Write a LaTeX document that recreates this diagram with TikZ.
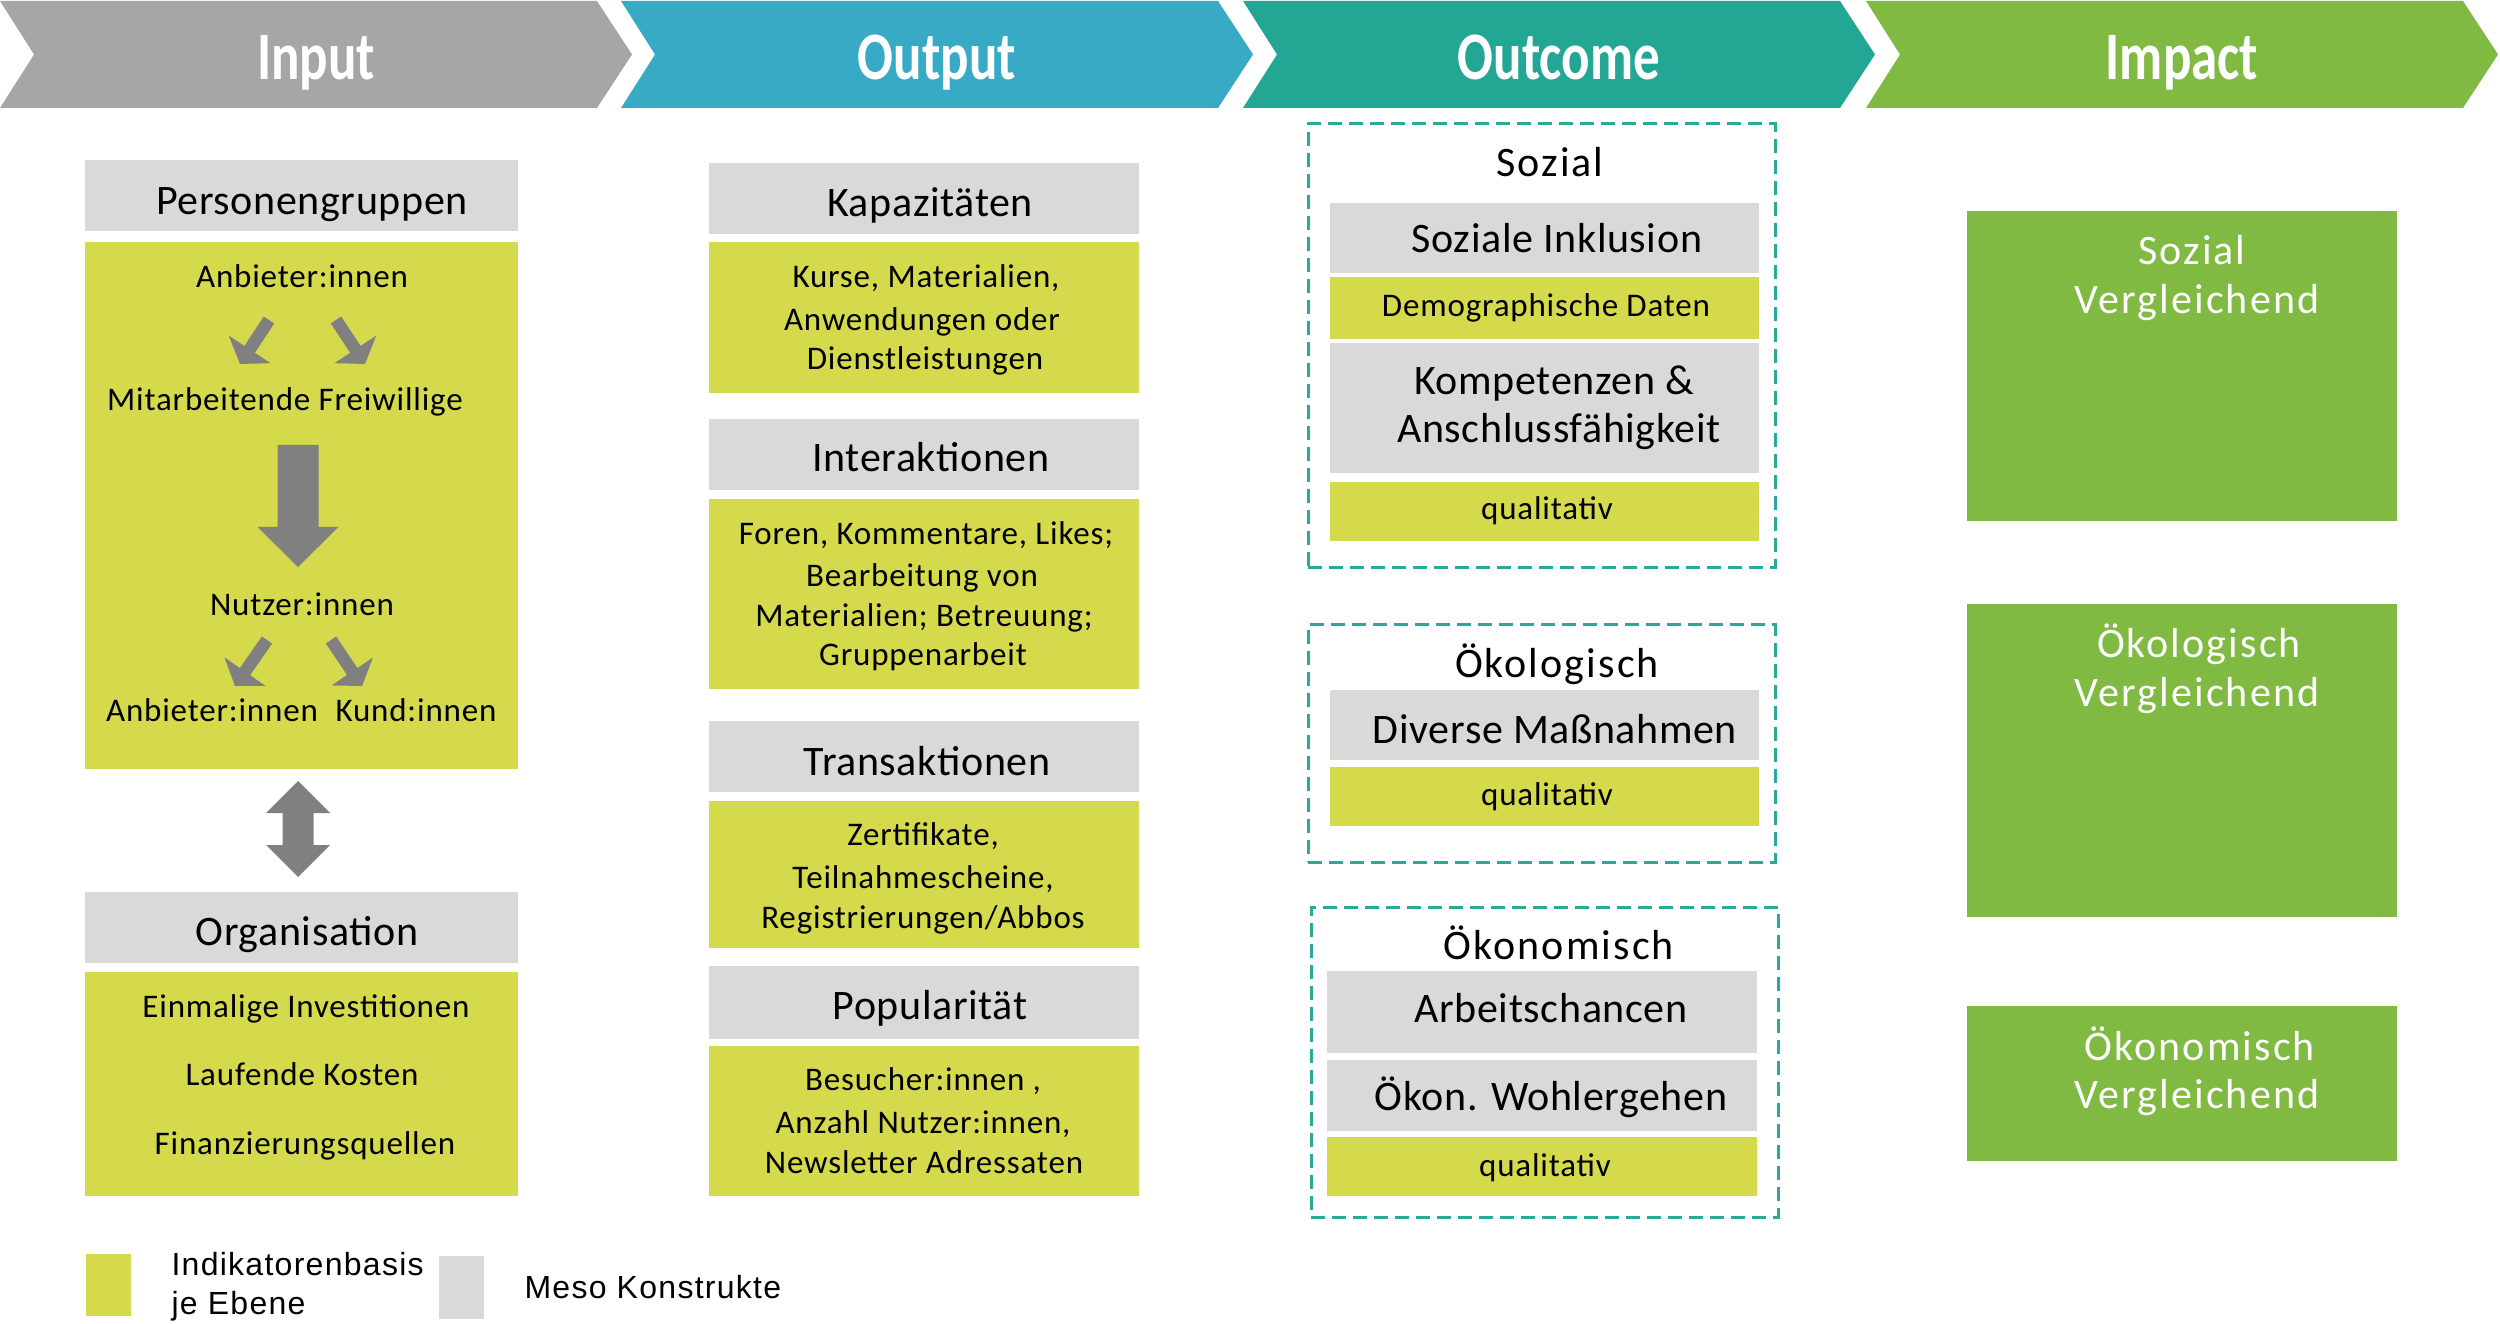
\documentclass[tikz,border=0pt]{standalone}
\usepackage{fontspec}
\usepackage{graphicx}
\setmainfont{Carlito}
\newfontfamily\spacedfont[LetterSpace=5]{Carlito}
\newfontfamily\hdfont[LetterSpace=1.5]{Carlito}
\newfontfamily\bodyfont[LetterSpace=2.5]{Carlito}
\newfontfamily\legfont[LetterSpace=4]{Liberation Sans}
\usetikzlibrary{calc,fit}
\definecolor{cInput}{HTML}{A6A6A6}
\definecolor{cOutput}{HTML}{38AAC6}
\definecolor{cOutcome}{HTML}{23A694}
\definecolor{cImpact}{HTML}{80BA42}
\definecolor{lime}{HTML}{D4DA4B}
\definecolor{lgray}{HTML}{D9D9D9}
\definecolor{agray}{HTML}{808080}
\definecolor{dteal}{HTML}{2AA898}
\tikzset{
 limebox/.style={fill=lime, inner sep=0pt, outer sep=0pt},
 graybox/.style={fill=lgray, inner sep=0pt, outer sep=0pt},
 impbox/.style={fill=cImpact, inner sep=0pt, outer sep=0pt},
 dashbox/.style={draw=dteal, line width=1.2pt, dash pattern=on 5.6pt off 2.8pt, inner sep=0pt},
 chevtitle/.style={text=white, font=\fontsize{27.2pt}{30pt}\selectfont\bfseries, anchor=base, inner sep=0pt},
 hdtxt/.style={font=\hdfont\fontsize{16.8pt}{20pt}\selectfont, anchor=base, inner sep=0pt},
 bodytxt/.style={font=\bodyfont\fontsize{13.2pt}{16pt}\selectfont, anchor=base, inner sep=0pt},
 grptxt/.style={font=\spacedfont\fontsize{16.8pt}{20pt}\selectfont, anchor=base, inner sep=0pt},
 imptxt/.style={grptxt, text=white},
 legtxt/.style={font=\legfont\fontsize{12.8pt}{15pt}\selectfont, anchor=base west, inner sep=0pt},
}
% block arrow: tail, tip, half shaft, half head, head length
\newcommand\blockarr[5]{%
  \coordinate (ba-c) at ($(#2)!#5!(#1)$);
  \fill[agray] ($(#1)!#3!90:(#2)$) -- ($(ba-c)!#3!-90:(#1)$) -- ($(ba-c)!#4!-90:(#1)$) -- (#2)
     -- ($(ba-c)!#4!90:(#1)$) -- ($(ba-c)!#3!90:(#1)$) -- ($(#1)!#3!-90:(#2)$) -- cycle;}
% double-headed block arrow: tip1, tip2, half shaft, half head, head length
\newcommand\twoheadarr[5]{%
  \coordinate (da-a) at ($(#1)!#5!(#2)$);
  \coordinate (da-b) at ($(#2)!#5!(#1)$);
  \fill[agray] (#1) -- ($(da-a)!#4!90:(#2)$) -- ($(da-a)!#3!90:(#2)$) -- ($(da-b)!#3!-90:(#1)$)
     -- ($(da-b)!#4!-90:(#1)$) -- (#2) -- ($(da-b)!#4!90:(#1)$) -- ($(da-b)!#3!90:(#1)$)
     -- ($(da-a)!#3!-90:(#2)$) -- ($(da-a)!#4!-90:(#2)$) -- cycle;}
\newcommand\chev[2]{\fill[#2] (#1,1) -- (#1+597,1) -- (#1+632,54.5) -- (#1+597,108) -- (#1,108) -- (#1+34,54.5) -- cycle;}
\begin{document}
\begin{tikzpicture}[x=0.4pt, y=-0.4pt]
\useasboundingbox (0,0) rectangle (2500,1324);
% ---------- chevrons
\chev{0}{cInput}
\chev{621}{cOutput}
\chev{1243}{cOutcome}
\chev{1866}{cImpact}
\node[chevtitle] (tIn)  at (316,80)  {\scalebox{0.78}[1]{Input}};
\node[chevtitle] (tOut) at (937,80)  {\scalebox{0.78}[1]{Output}};
\node[chevtitle] (tOc)  at (1559,80) {\scalebox{0.78}[1]{Outcome}};
\node[chevtitle] (tIm)  at (2182,80) {\scalebox{0.78}[1]{Impact}};
% ---------- Input column
\node[graybox, fit={(85,160) (518,231)}] (persG) {};
\node[hdtxt] (persT) at (312,215) {Personengruppen};
\node[limebox, fit={(85,242) (518,769)}] (persL) {};
\node[bodytxt] (anb1) at (302,288) {Anbieter:innen};
\node[bodytxt] (mf) at (285,411) {Mitarbeitende Freiwillige};
\node[bodytxt] (nutz) at (302,616) {Nutzer:innen};
\node[bodytxt] (anb2) at (212,721) {Anbieter:innen};
\node[bodytxt] (kund) at (416,721) {Kund:innen};
\coordinate (a1s) at (269,320); \coordinate (a1e) at (240,364);
\coordinate (a2s) at (336,320); \coordinate (a2e) at (365,364);
\coordinate (a3s) at (298,445); \coordinate (a3e) at (298,567);
\coordinate (a4s) at (267,640); \coordinate (a4e) at (235,686);
\coordinate (a5s) at (331,640); \coordinate (a5e) at (362,686);
\blockarr{a1s}{a1e}{2.5pt}{10pt}{7pt}
\blockarr{a2s}{a2e}{2.5pt}{10pt}{7pt}
\blockarr{a3s}{a3e}{8.2pt}{16.2pt}{16pt}
\blockarr{a4s}{a4e}{2.5pt}{10pt}{7pt}
\blockarr{a5s}{a5e}{2.5pt}{10pt}{7pt}
\node[graybox, fit={(85,892) (518,963)}] (orgG) {};
\node[hdtxt] (orgT) at (307,945) {Organisation};
\node[limebox, fit={(85,972) (518,1196)}] (orgL) {};
\node[bodytxt] (org1) at (306,1017) {Einmalige Investitionen};
\node[bodytxt] (org2) at (302,1085.5) {Laufende Kosten};
\node[bodytxt] (org3) at (305,1154) {Finanzierungsquellen};
\coordinate (d1) at ($(persL.south)+(-3.5,12)$);
\coordinate (d2) at ($(orgG.north)+(-3.5,-15)$);
\twoheadarr{d1}{d2}{6.2pt}{12.8pt}{12.8pt}
% ---------- Output column
\node[graybox, fit={(709,163) (1139,234)}] (kapG) {};
\node[hdtxt] (kapT) at (930,217) {Kapazitäten};
\node[limebox, fit={(709,242) (1139,393)}] (kapL) {};
\node[bodytxt] at (926,288) {Kurse, Materialien,};
\node[bodytxt] at (922,330.5) {Anwendungen oder};
\node[bodytxt] at (925,370) {Dienstleistungen};
\node[graybox, fit={(709,419) (1139,490)}] (intG) {};
\node[hdtxt] (intT) at (931,472) {Interaktionen};
\node[limebox, fit={(709,499) (1139,689)}] (intL) {};
\node[bodytxt] at (926,545) {Foren, Kommentare, Likes;};
\node[bodytxt] at (922,587) {Bearbeitung von};
\node[bodytxt] at (924,626.5) {Materialien; Betreuung;};
\node[bodytxt] at (923,666) {Gruppenarbeit};
\node[graybox, fit={(709,721) (1139,792)}] (traG) {};
\node[hdtxt] (traT) at (927,775) {Transaktionen};
\node[limebox, fit={(709,801) (1139,948)}] (traL) {};
\node[bodytxt] at (923,845.7) {Zertifikate,};
\node[bodytxt] at (923,888) {Teilnahmescheine,};
\node[bodytxt] at (923,928) {Registrierungen/Abbos};
\node[graybox, fit={(709,966) (1139,1039)}] (popG) {};
\node[hdtxt] (popT) at (930,1019) {Popularität};
\node[limebox, fit={(709,1046) (1139,1196)}] (popL) {};
\node[bodytxt] at (923,1090) {Besucher:innen ,};
\node[bodytxt] at (923,1133) {Anzahl Nutzer:innen,};
\node[bodytxt] at (924,1173) {Newsletter Adressaten};
% ---------- Outcome column
\node[dashbox, fit={(1308,124) (1775,568)}] (sozD) {};
\node[grptxt] (sozT) at (1550,177) {Sozial};
\node[graybox, fit={(1330,203) (1759,273)}] (sozG1) {};
\node[hdtxt] at (1557,253) {Soziale Inklusion};
\node[limebox, fit={(1330,277) (1759,339)}] (sozL1) {};
\node[bodytxt] at (1546,316.7) {Demographische Daten};
\node[graybox, fit={(1330,343) (1759,473)}] (sozG2) {};
\node[hdtxt] at (1554,395) {Kompetenzen \&};
\node[hdtxt] at (1559,443) {Anschlussfähigkeit};
\node[limebox, fit={(1330,482) (1759,541)}] (sozL2) {};
\node[bodytxt] at (1547,520) {qualitativ};
\node[dashbox, fit={(1308,625) (1775,862)}] (oekD) {};
\node[grptxt] (oekT) at (1557,677.5) {Ökologisch};
\node[graybox, fit={(1330,690) (1759,760)}] (oekG) {};
\node[hdtxt] at (1555,743.7) {Diverse Maßnahmen};
\node[limebox, fit={(1330,767) (1759,826)}] (oekL) {};
\node[bodytxt] at (1547,805) {qualitativ};
\node[dashbox, fit={(1311,907) (1778,1217)}] (oknD) {};
\node[grptxt] (oknT) at (1559,959) {Ökonomisch};
\node[graybox, fit={(1327,971) (1757,1053)}] (oknG1) {};
\node[hdtxt] at (1551,1022) {Arbeitschancen};
\node[graybox, fit={(1327,1060) (1757,1131)}] (oknG2) {};
\node[hdtxt] at (1551,1110) {Ökon. Wohlergehen};
\node[limebox, fit={(1327,1137) (1757,1196)}] (oknL) {};
\node[bodytxt] at (1545,1176.7) {qualitativ};
% ---------- Impact column
\node[impbox, fit={(1967,211) (2397,521)}] (imp1) {};
\node[imptxt] at (2192,264.8) {Sozial};
\node[imptxt] at (2197,314) {Vergleichend};
\node[impbox, fit={(1967,604) (2397,917)}] (imp2) {};
\node[imptxt] at (2199,658) {Ökologisch};
\node[imptxt] at (2197,706) {Vergleichend};
\node[impbox, fit={(1967,1006) (2397,1161)}] (imp3) {};
\node[imptxt] at (2200,1060) {Ökonomisch};
\node[imptxt] at (2197,1108) {Vergleichend};
% ---------- Legend
\node[limebox, fit={(86,1254) (131,1316)}] (legL) {};
\node[legtxt] at (171,1275) {Indikatorenbasis};
\node[legtxt] at (171,1314) {je Ebene};
\node[graybox, fit={(439,1256) (484,1319)}] (legG) {};
\node[legtxt] at (524,1298) {Meso Konstrukte};
\end{tikzpicture}
\end{document}
